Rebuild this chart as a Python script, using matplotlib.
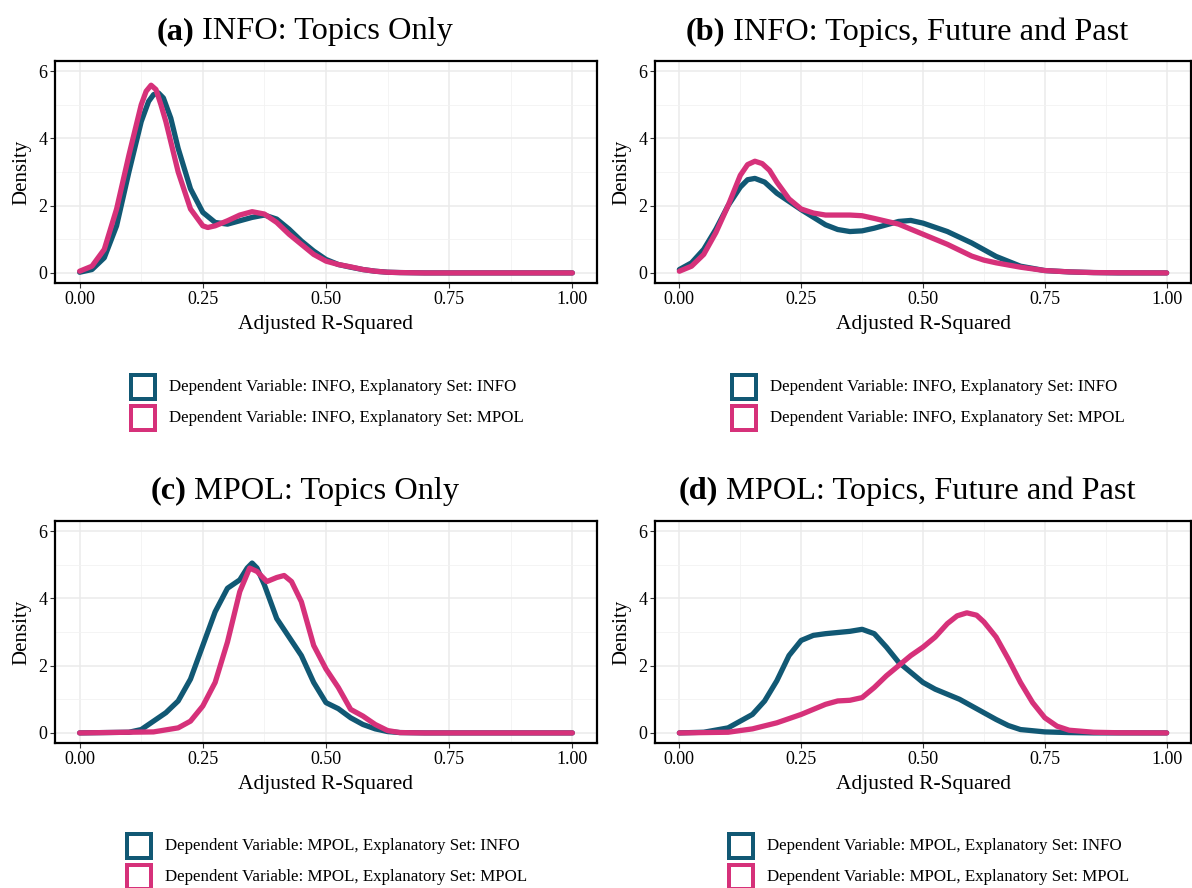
import matplotlib
matplotlib.use("Agg")
import matplotlib.pyplot as plt
from matplotlib.patches import Rectangle
from matplotlib.ticker import MultipleLocator

plt.rcParams['font.family'] = ['Liberation Serif', 'DejaVu Serif']

TEAL = '#115874'
PINK = '#D6317A'

# ---------------- data ----------------
# (a) INFO: Topics Only
a_info_x = [0, 0.025, 0.05, 0.075, 0.1, 0.125, 0.14, 0.15, 0.16, 0.17, 0.185, 0.2, 0.225, 0.25, 0.275, 0.3,
            0.325, 0.35, 0.375, 0.4, 0.425, 0.45, 0.475, 0.5, 0.525, 0.55, 0.575, 0.6, 0.625, 0.65, 0.7, 1.0]
a_info_y = [0.02, 0.1, 0.45, 1.4, 3.0, 4.5, 5.1, 5.3, 5.35, 5.2, 4.6, 3.7, 2.5, 1.8, 1.5, 1.45,
            1.55, 1.65, 1.72, 1.6, 1.3, 0.95, 0.65, 0.4, 0.25, 0.17, 0.1, 0.05, 0.02, 0.01, 0.0, 0.0]
a_mpol_x = [0, 0.025, 0.05, 0.075, 0.1, 0.125, 0.135, 0.145, 0.155, 0.165, 0.175, 0.2, 0.225, 0.25, 0.26, 0.275,
            0.3, 0.325, 0.35, 0.375, 0.4, 0.425, 0.45, 0.475, 0.5, 0.525, 0.55, 0.575, 0.6, 0.625, 0.65, 0.7, 1.0]
a_mpol_y = [0.05, 0.2, 0.7, 1.9, 3.5, 5.0, 5.4, 5.58, 5.45, 5.0, 4.5, 3.0, 1.9, 1.4, 1.35, 1.4,
            1.55, 1.72, 1.82, 1.75, 1.5, 1.15, 0.85, 0.55, 0.35, 0.25, 0.18, 0.1, 0.05, 0.02, 0.01, 0.0, 0.0]

# (b) INFO: Topics, Future and Past
b_info_x = [0, 0.025, 0.05, 0.075, 0.1, 0.125, 0.14, 0.155, 0.175, 0.2, 0.25, 0.3, 0.325, 0.35, 0.375, 0.4, 0.45,
            0.475, 0.5, 0.55, 0.6, 0.65, 0.7, 0.75, 0.8, 0.85, 0.9, 1.0]
b_info_y = [0.1, 0.3, 0.7, 1.3, 2.0, 2.55, 2.77, 2.81, 2.7, 2.37, 1.88, 1.43, 1.29, 1.23, 1.25, 1.33, 1.53,
            1.56, 1.48, 1.23, 0.89, 0.49, 0.2, 0.07, 0.03, 0.01, 0.0, 0.0]
b_mpol_x = [0, 0.025, 0.05, 0.075, 0.1, 0.125, 0.14, 0.155, 0.17, 0.185, 0.2, 0.225, 0.25, 0.275, 0.3, 0.35,
            0.375, 0.4, 0.45, 0.5, 0.55, 0.6, 0.625, 0.65, 0.7, 0.75, 0.8, 0.85, 0.9, 1.0]
b_mpol_y = [0.05, 0.2, 0.55, 1.2, 2.0, 2.9, 3.22, 3.32, 3.25, 3.05, 2.7, 2.2, 1.9, 1.78, 1.72, 1.72,
            1.7, 1.62, 1.45, 1.15, 0.85, 0.5, 0.38, 0.3, 0.17, 0.07, 0.03, 0.01, 0.005, 0.0]

# (c) MPOL: Topics Only
c_info_x = [0, 0.1, 0.125, 0.15, 0.175, 0.2, 0.225, 0.25, 0.275, 0.3, 0.325, 0.34, 0.35, 0.36, 0.375,
            0.4, 0.425, 0.45, 0.475, 0.5, 0.525, 0.55, 0.575, 0.6, 0.625, 0.65, 0.7, 1.0]
c_info_y = [0.0, 0.02, 0.1, 0.35, 0.6, 0.95, 1.6, 2.6, 3.6, 4.3, 4.55, 4.9, 5.05, 4.9, 4.4,
            3.4, 2.85, 2.3, 1.5, 0.9, 0.72, 0.45, 0.25, 0.12, 0.04, 0.01, 0.0, 0.0]
c_mpol_x = [0, 0.15, 0.2, 0.225, 0.25, 0.275, 0.3, 0.325, 0.345, 0.36, 0.38, 0.4, 0.415, 0.43,
            0.45, 0.475, 0.5, 0.525, 0.55, 0.575, 0.6, 0.625, 0.65, 0.7, 1.0]
c_mpol_y = [0.0, 0.03, 0.15, 0.35, 0.8, 1.5, 2.7, 4.2, 4.9, 4.8, 4.5, 4.62, 4.68, 4.5,
            3.9, 2.6, 1.9, 1.35, 0.7, 0.5, 0.25, 0.07, 0.01, 0.0, 0.0]

# (d) MPOL: Topics, Future and Past
d_info_x = [0, 0.05, 0.1, 0.15, 0.175, 0.2, 0.225, 0.25, 0.275, 0.3, 0.35, 0.375, 0.4, 0.425,
            0.45, 0.475, 0.5, 0.525, 0.55, 0.575, 0.6, 0.625, 0.65, 0.675, 0.7, 0.75, 0.8, 0.85, 1.0]
d_info_y = [0.0, 0.02, 0.15, 0.55, 0.95, 1.55, 2.3, 2.75, 2.9, 2.95, 3.02, 3.08, 2.95, 2.55,
            2.1, 1.8, 1.5, 1.3, 1.15, 1.0, 0.8, 0.6, 0.4, 0.22, 0.1, 0.03, 0.01, 0.0, 0.0]
d_mpol_x = [0, 0.1, 0.15, 0.2, 0.25, 0.275, 0.3, 0.325, 0.35, 0.375, 0.4, 0.425, 0.45, 0.475,
            0.5, 0.525, 0.55, 0.57, 0.59, 0.61, 0.625, 0.65, 0.675, 0.7, 0.725, 0.75, 0.775, 0.8,
            0.85, 0.9, 1.0]
d_mpol_y = [0.0, 0.02, 0.12, 0.3, 0.55, 0.7, 0.85, 0.95, 0.97, 1.05, 1.35, 1.7, 2.0, 2.3,
            2.55, 2.85, 3.25, 3.48, 3.57, 3.5, 3.3, 2.85, 2.2, 1.5, 0.9, 0.45, 0.2, 0.08,
            0.02, 0.005, 0.0]

titles = ["INFO: Topics Only", "INFO: Topics, Future and Past",
          "MPOL: Topics Only", "MPOL: Topics, Future and Past"]
tags = ["(a)", "(b)", "(c)", "(d)"]
legend_labels = [
    ["Dependent Variable: INFO, Explanatory Set: INFO", "Dependent Variable: INFO, Explanatory Set: MPOL"],
    ["Dependent Variable: INFO, Explanatory Set: INFO", "Dependent Variable: INFO, Explanatory Set: MPOL"],
    ["Dependent Variable: MPOL, Explanatory Set: INFO", "Dependent Variable: MPOL, Explanatory Set: MPOL"],
    ["Dependent Variable: MPOL, Explanatory Set: INFO", "Dependent Variable: MPOL, Explanatory Set: MPOL"],
]
series = [
    ((a_info_x, a_info_y), (a_mpol_x, a_mpol_y)),
    ((b_info_x, b_info_y), (b_mpol_x, b_mpol_y)),
    ((c_info_x, c_info_y), (c_mpol_x, c_mpol_y)),
    ((d_info_x, d_info_y), (d_mpol_x, d_mpol_y)),
]

# ---------------- layout (pixels) ----------------
W, H = 1192, 888
fig = plt.figure(figsize=(W / 100, H / 100), dpi=100)

# left, top, right, bottom of each axes box in pixels
boxes = [(55, 61, 597, 283), (655, 61, 1191, 283),
         (55, 521, 597, 743), (655, 521, 1191, 743)]
title_pos = [(305, 32), (907, 32), (305, 491), (907, 491)]
# top-left corner of first legend key (outer edge), pixels
legend_pos = [(129, 373), (730, 373), (125, 832), (727, 832)]
KEY = 28        # outer key size, px
KEY_LW = 4      # key edge width, px
ROW = 31        # row pitch, px

rend = fig.canvas.get_renderer()

for i in range(4):
    l, t, r, b = boxes[i]
    ax = fig.add_axes([l / W, 1 - b / H, (r - l) / W, (b - t) / H])
    (x1, y1), (x2, y2) = series[i]
    ax.plot(x1, y1, color=TEAL, lw=3.8, solid_capstyle='round', solid_joinstyle='round', zorder=3)
    ax.plot(x2, y2, color=PINK, lw=3.8, solid_capstyle='round', solid_joinstyle='round', zorder=4)

    ax.set_xlim(-0.05, 1.05)
    ax.set_ylim(-0.3, 6.3)
    ax.xaxis.set_minor_locator(MultipleLocator(0.125))
    ax.yaxis.set_major_locator(MultipleLocator(2))
    ax.yaxis.set_minor_locator(MultipleLocator(1))
    ax.set_xticks([0, 0.25, 0.5, 0.75, 1.0])
    ax.set_xticklabels(["0.00", "0.25", "0.50", "0.75", "1.00"])
    ax.grid(which='major', color='#EBEBEB', lw=1.1, zorder=0)
    ax.grid(which='minor', color='#F2F2F2', lw=0.6, zorder=0)
    ax.set_axisbelow(True)
    ax.tick_params(which='major', length=3.5, width=0.8, color='#333333',
                   labelsize=13, pad=2)
    ax.tick_params(which='minor', length=0)
    for s in ax.spines.values():
        s.set_linewidth(1.6)
        s.set_color('black')
    ax.set_xlabel("Adjusted R-Squared", fontsize=15.5, labelpad=5)
    ax.set_ylabel("Density", fontsize=15, labelpad=5)

    # title: bold tag followed by regular text, centred as one line
    tx, ty = title_pos[i]
    t1 = fig.text(0, 1 - ty / H, tags[i], fontsize=23.3, fontweight='bold', va='center')
    t2 = fig.text(0, 1 - ty / H, " " + titles[i], fontsize=23.3, va='center')
    w1 = t1.get_window_extent(rend).width
    w2 = t2.get_window_extent(rend).width
    x0 = tx - (w1 + w2) / 2
    t1.set_x(x0 / W)
    t2.set_x((x0 + w1) / W)

    # legend: outlined square keys + labels
    lx, ly = legend_pos[i]
    for k, col in enumerate([TEAL, PINK]):
        top = ly + k * ROW
        inner = KEY - KEY_LW
        rect = Rectangle(((lx + KEY_LW / 2) / W, 1 - (top + KEY - KEY_LW / 2) / H),
                         inner / W, inner / H, transform=fig.transFigure,
                         facecolor='white', edgecolor=col, linewidth=KEY_LW * 0.72)
        fig.add_artist(rect)
        fig.text((lx + 40) / W, 1 - (top + KEY / 2) / H, legend_labels[i][k],
                 fontsize=12.2, va='center', ha='left')

fig.savefig("out.png", dpi=100)
